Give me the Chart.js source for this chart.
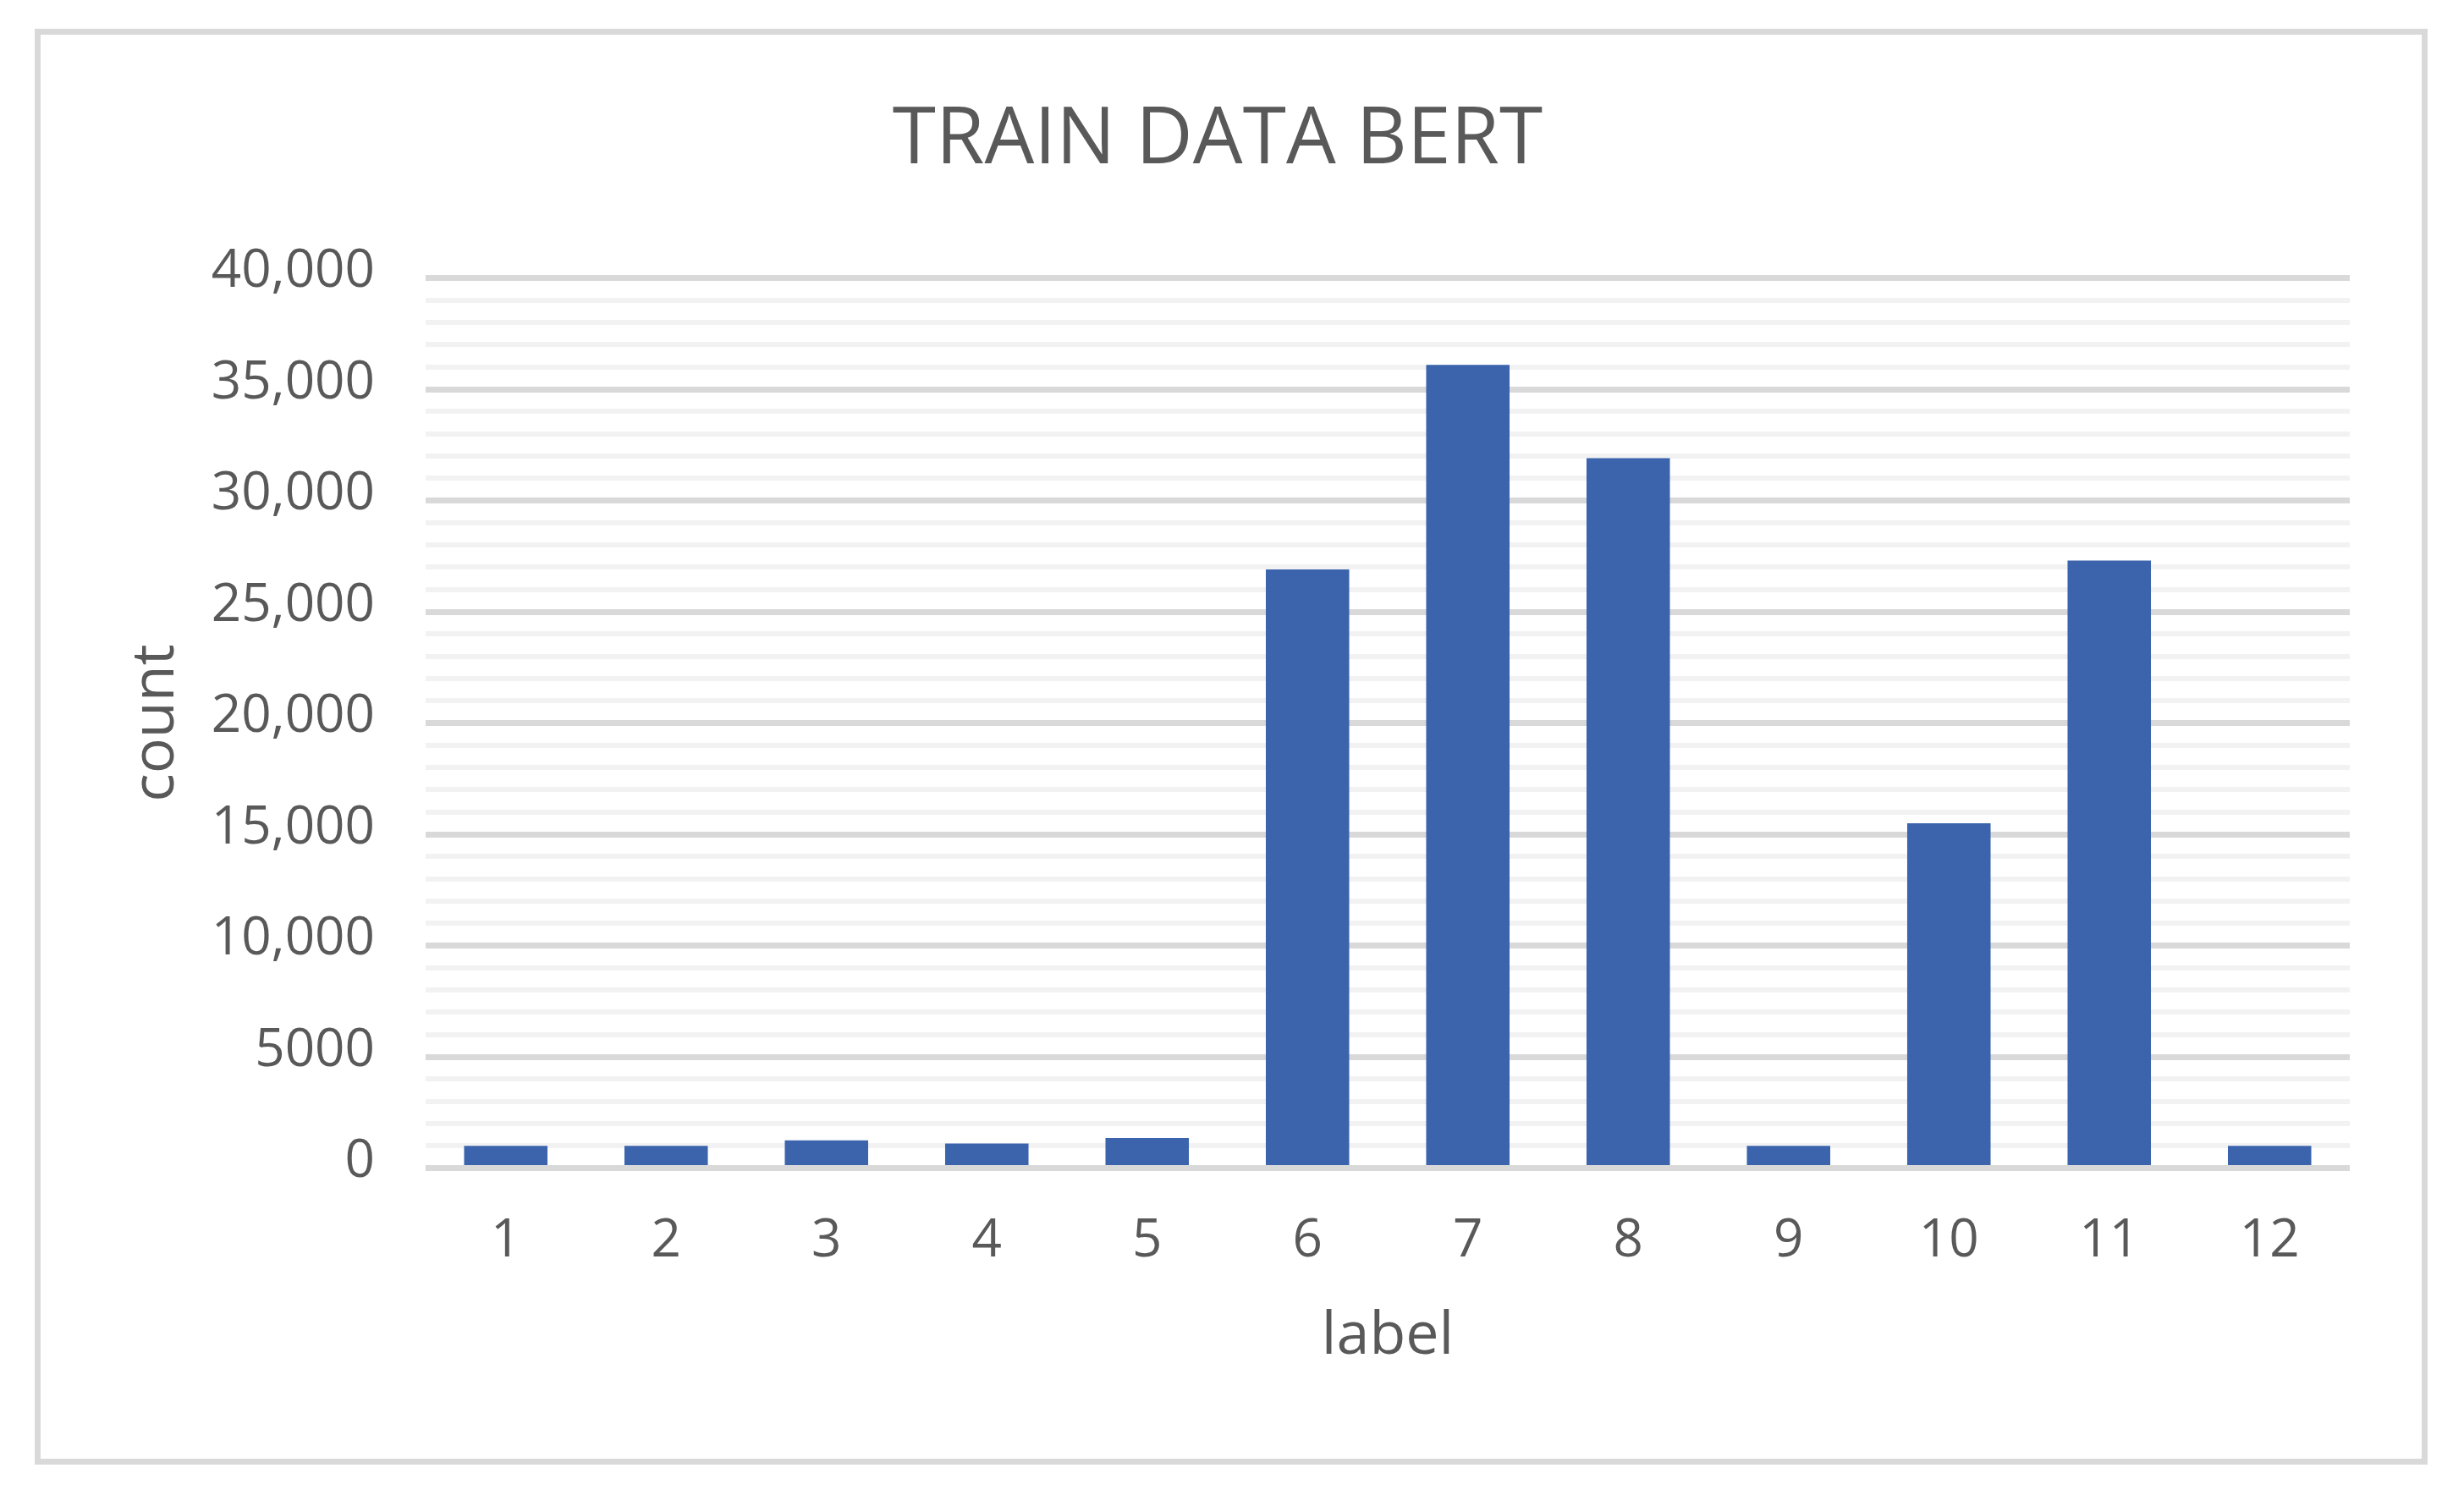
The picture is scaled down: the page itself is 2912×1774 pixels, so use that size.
<!DOCTYPE html>
<html>
<head>
<meta charset="utf-8">
<title>TRAIN DATA BERT</title>
<script src="https://cdn.jsdelivr.net/npm/chart.js"></script>
<style>
  html, body { margin: 0; padding: 0; background: #fff; }
  #wrap { position: relative; width: 2912px; height: 1774px; }
  #frame {
    position: absolute; left: 41px; top: 34px; width: 2828px; height: 1697px;
    border: 7px solid #d9d9d9; box-sizing: border-box; pointer-events: none;
  }
</style>
</head>
<body>
<div id="wrap">
  <canvas id="chart" width="2912" height="1774"></canvas>
  <div id="frame"></div>
</div>
<script>
/* ── data ─────────────────────────────────────────────── */
const categories  = ['1', '2', '3', '4', '5', '6', '7', '8', '9', '10', '11', '12'];
const counts      = [1000, 1000, 1250, 1100, 1350, 26900, 36100, 31900, 1000, 15500, 27300, 1000];
const yTickLabels = ['0', '5000', '10,000', '15,000', '20,000', '25,000', '30,000', '35,000', '40,000'];

const TEXT = '#595959';
const FONT = "'Open Sans', 'Noto Sans', sans-serif";

new Chart(document.getElementById('chart'), {
    type: 'bar',
    data: {
        labels: categories,
        datasets: [{
            data: counts,
            backgroundColor: '#3b64ad',
            borderWidth: 0,
            categoryPercentage: 1,
            barPercentage: 0.52
        }]
    },
    options: {
        responsive: false,
        animation: false,
        layout: { padding: { left: 101, right: 135, top: 0, bottom: 0 } },
        plugins: {
            legend: { display: false },
            tooltip: { enabled: false },
            title: {
                display: true,
                text: 'TRAIN DATA BERT',
                color: TEXT,
                font: { family: FONT, size: 93, weight: 'normal', lineHeight: 1.2 },
                padding: { top: 111, bottom: 106 }
            }
        },
        scales: {
            x: {
                grid: { display: false },
                border: { display: false },
                ticks: { color: TEXT, font: { family: FONT, size: 62 }, padding: 42, maxRotation: 0 },
                title: {
                    display: true, text: 'label', color: TEXT,
                    font: { family: FONT, size: 70, lineHeight: 1.2 },
                    padding: { top: 0, bottom: 152 }
                },
                afterFit(scale) { scale.height = 393.5; }
            },
            y: {
                min: 0,
                max: 40000,
                border: { display: false },
                grid: {
                    drawTicks: false,
                    color: c => (c.tick && c.tick.value % 5000 === 0) ? '#d9d9d9' : '#f2f2f2',
                    lineWidth: c => (c.tick && c.tick.value % 5000 === 0) ? 7 : 6
                },
                ticks: {
                    stepSize: 1000,
                    autoSkip: false,
                    color: TEXT,
                    // two-line label with a short line height lifts the text a little above its gridline
                    font: { family: FONT, size: 62, lineHeight: '14px' },
                    padding: 60,
                    callback: v => (v % 5000 === 0) ? [yTickLabels[v / 5000], ''] : ''
                },
                title: {
                    display: true, text: 'count', color: TEXT,
                    font: { family: FONT, size: 70, lineHeight: 1.2 },
                    padding: { top: 42, bottom: 0 }
                },
                afterFit(scale) { scale.width = 402; }
            }
        }
    }
});
</script>
</body>
</html>
